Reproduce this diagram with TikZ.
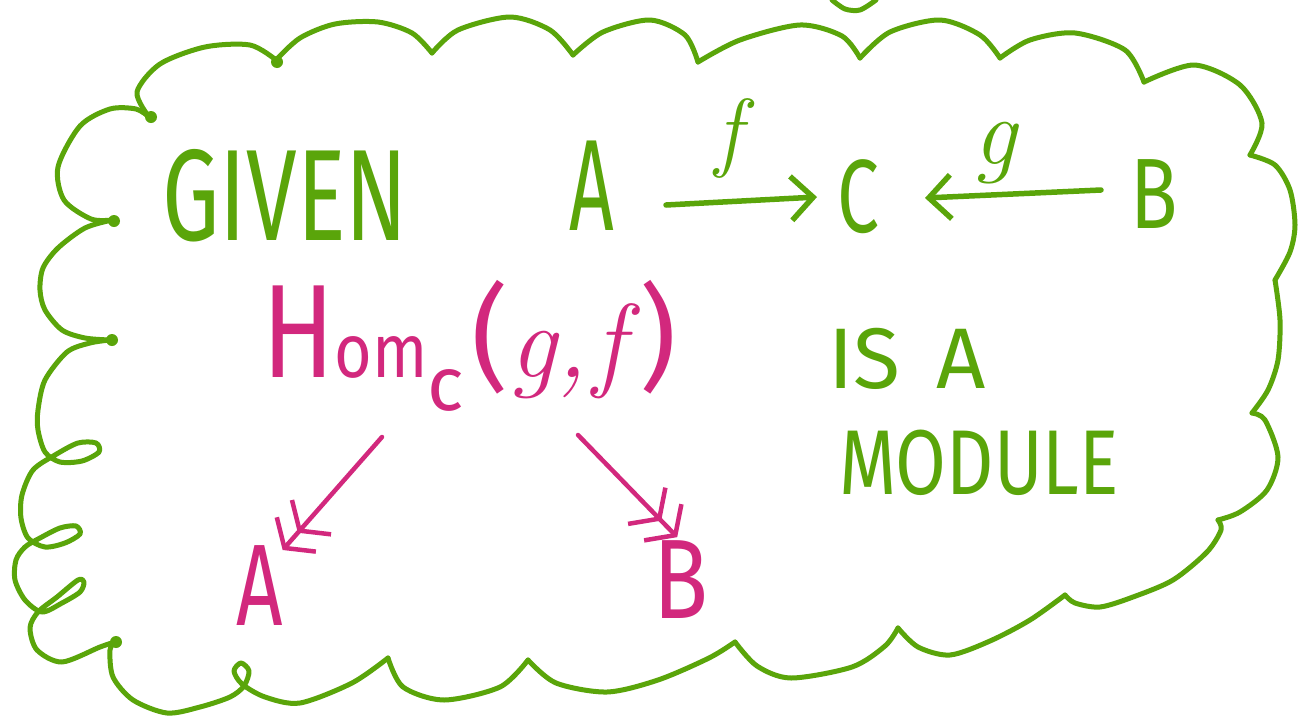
\documentclass[tikz,border=0pt]{standalone}
\usepackage{fontspec}
\setmainfont{Fira Sans}
\newfontfamily\lmfam{Latin Modern Roman}
\usetikzlibrary{arrows.meta,calc}
\definecolor{grn}{RGB}{90,165,10}
\definecolor{mag}{RGB}{210,40,125}
\newcommand{\fs}[1]{\fontsize{#1}{#1}\selectfont}
\begin{document}
\begin{tikzpicture}[x=1pt,y=-1pt,
  cloudline/.style={grn, line width=5pt, line cap=round, line join=round},
  gtxt/.style={grn, inner sep=0pt, anchor=base},
  mtxt/.style={mag, inner sep=0pt, anchor=base},
  garrow/.style={grn, line width=5.5pt, line cap=round, -{Straight Barb[length=22pt,width=44pt]}},
  marrow/.style={mag, line width=4.5pt, line cap=round, -{Straight Barb[length=18pt,width=52pt] Straight Barb[length=18pt,width=52pt,sep=4pt]}}
]
\fill[white] (0,0) rectangle (1299,718);
\useasboundingbox (0,0) rectangle (1299,718);

% cloud outline
\draw[cloudline] plot[smooth] coordinates {(112,220) (91,219) (64,200) (58,167) (80,126) (110,109) (136,109) (149,117)};
\draw[cloudline] plot[smooth] coordinates {(149,117) (137,92) (160,64) (205,47) (250,45) (276,60)};
\draw[cloudline] plot[smooth] coordinates {(276,60) (300,38) (335,24) (378,22) (412,33) (432,53)};
\draw[cloudline] plot[smooth] coordinates {(432,53) (458,30) (510,17) (550,30) (573,55)};
\draw[cloudline] plot[smooth] coordinates {(573,55) (603,32) (650,20) (685,35) (698,62)};
\draw[cloudline] plot[smooth] coordinates {(698,62) (740,40) (800,25) (842,36) (860,58)};
\draw[cloudline] plot[smooth] coordinates {(860,58) (890,32) (940,20) (980,35) (1000,58)};
\draw[cloudline] plot[smooth] coordinates {(1000,58) (1030,40) (1075,33) (1125,50) (1144,82)};
\draw[cloudline] plot[smooth] coordinates {(1144,82) (1194,65) (1240,85) (1262,123) (1250,155)};
\draw[cloudline] plot[smooth] coordinates {(1250,155) (1275,165) (1290,190) (1295,225) (1290,252) (1275,280)};
\draw[cloudline] plot[smooth] coordinates {(1275,280) (1280,320) (1278,360) (1268,390) (1252,413)};
\draw[cloudline] plot[smooth] coordinates {(1252,413) (1265,420) (1278,457) (1267,490) (1240,512) (1218,520)};
\draw[cloudline] plot[smooth] coordinates {(1218,520) (1221,530) (1207,552) (1173,580) (1133,597) (1100,607) (1075,603) (1065,595)};
\draw[cloudline] plot[smooth] coordinates {(1065,595) (1030,620) (990,641) (950,655) (918,647) (898,628)};
\draw[cloudline] plot[smooth] coordinates {(898,628) (885,646) (852,667) (791,678) (757,666) (735,642)};
\draw[cloudline] plot[smooth] coordinates {(735,642) (709,658) (658,680) (607,692) (556,683) (528,660)};
\draw[cloudline] plot[smooth] coordinates {(528,660) (500,687) (444,700) (403,687) (388,658)};
\draw[cloudline] plot[smooth] coordinates {(388,658) (352,683) (300,703) (265,697) (242,684) (234,671) (241,663) (249,671) (244,686) (230,697) (200,707) (167,713) (133,700) (113,677) (110,650) (115,642)};
\draw[cloudline] plot[smooth] coordinates {(115,642) (100,647) (62,662) (37,650) (30,628) (38,612) (57,597) (78,580) (84,582) (80,592) (62,603) (42,612) (25,600) (15,580) (16,560) (25,547) (40,538) (60,528) (76,526) (80,534) (65,543) (45,547) (28,538) (21,518) (22,495) (33,470) (55,455) (78,443) (96,443) (99,452) (82,461) (60,462) (45,452) (38,430) (38,410) (45,380) (67,352) (90,343) (110,340)};
\draw[cloudline] plot[smooth] coordinates {(110,340) (85,338) (62,330) (45,310) (40,290) (43,268) (58,248) (85,228) (112,220)};
\draw[cloudline] plot[smooth] coordinates {(832,0) (845,9) (860,10) (876,0)};
\foreach \p in {(151,117),(277,62),(114,221),(112,340),(116,642)}
  \fill[grn] \p circle (6pt);

% green texts
\node[gtxt] (given) at (285,240) {\fs{130}\scalebox{0.7}[1]{GIVEN}};
\node[gtxt] (gA) at (592,230) {\fs{130}\scalebox{0.6}[1]{A}};
\node[gtxt] (gC) at (858,232) {\fs{104}\scalebox{0.72}[1]{C}};
\node[gtxt] (gB) at (1154,228) {\fs{100}\scalebox{0.78}[1]{B}};
\node[gtxt] (lf) at (729,160) {\lmfam\itshape\fs{88}f};
\node[gtxt] (lg) at (995,164) {\lmfam\itshape\fs{96}g};
\node[gtxt] (isa) at (907,388) {\fs{86}IS\hspace{36pt}A};
\node[gtxt] (module) at (979,494) {\fs{92}\scalebox{0.8}[1]{MODULE}};

\draw[garrow] ($(gA.base)+(74,-25)$) -- ($(gC.base)+(-41,-35)$);
\draw[garrow] ($(gB.base)+(-53,-38)$) -- ($(gC.base)+(67,-34)$);

% magenta texts
\node[mtxt, anchor=base west] (hom) at (262,377) {\scalebox{0.8}[1]{\fs{133}H}\scalebox{0.85}[1]{\fs{76}om}\raisebox{-33pt}{\fs{76}c}\hspace{8pt}{\fs{115}(}{\lmfam\itshape\fs{105}g,\hspace{6pt}f}\hspace{14pt}{\fs{115})}};
\node[mtxt] (mA) at (260,625) {\fs{116}\scalebox{0.7}[1]{A}};
\node[mtxt] (mB) at (681,618) {\fs{113}\scalebox{0.8}[1]{B}};

\draw[marrow] ($(hom.base west)+(120,60)$) -- ($(mA.base)+(20,-72)$);
\draw[marrow] ($(hom.base west)+(316,58)$) -- ($(mB.base)+(-1,-78)$);
\end{tikzpicture}
\end{document}
